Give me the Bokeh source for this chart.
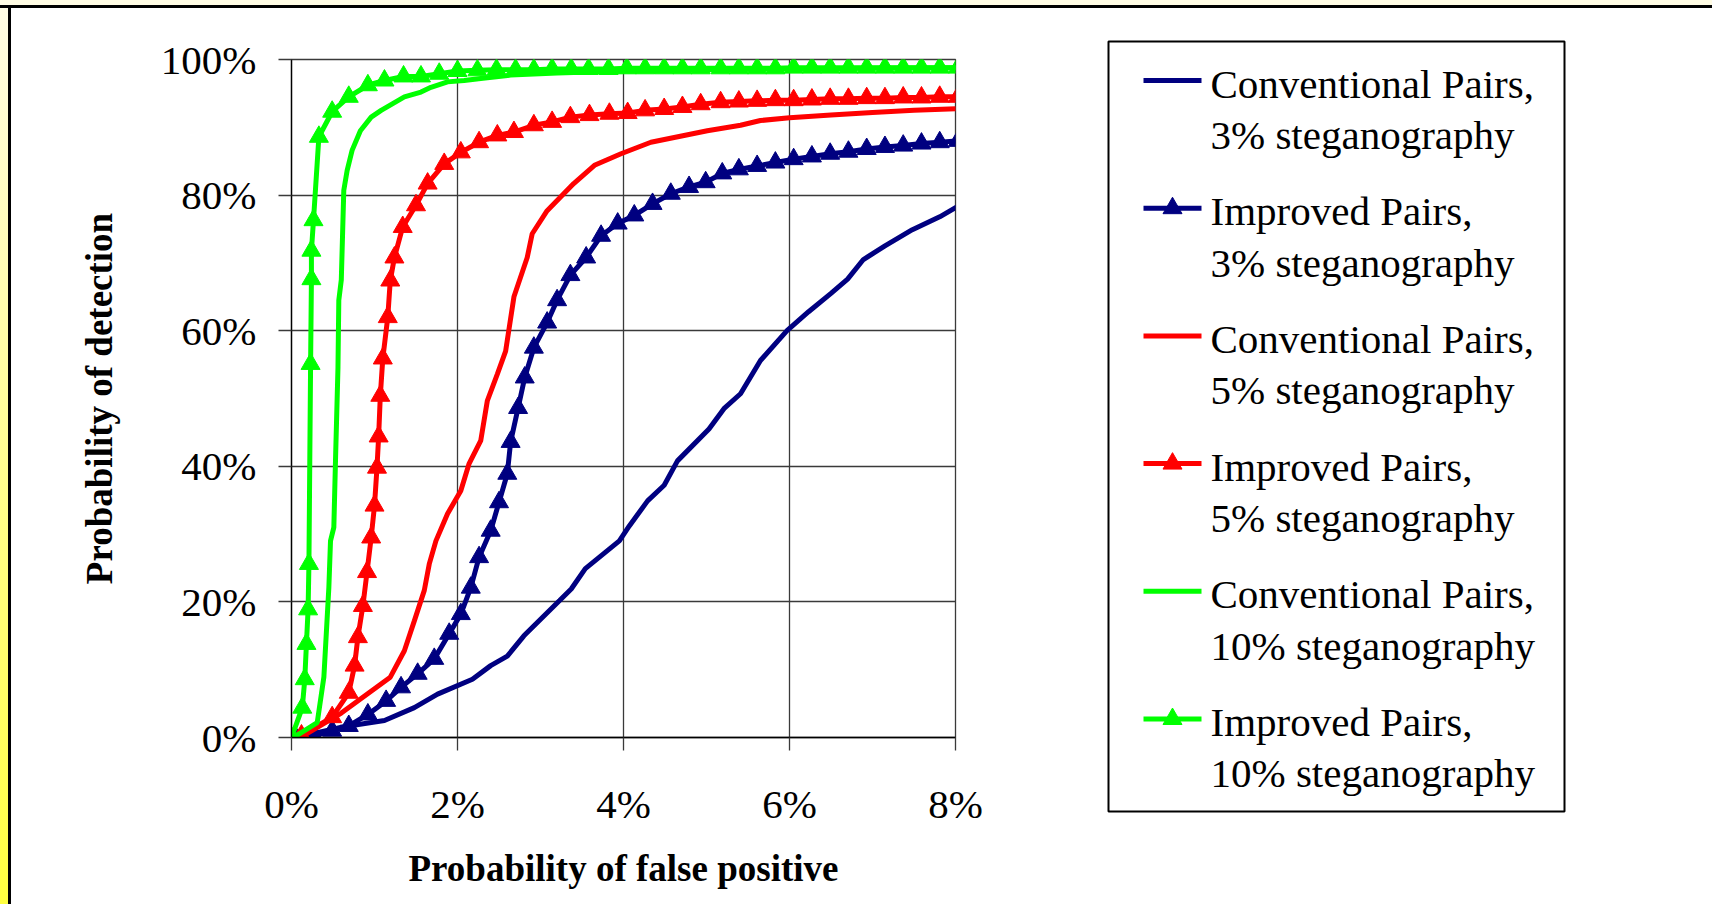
import numpy as np
from bokeh.plotting import figure
from bokeh.models import Range1d, FixedTicker, NumeralTickFormatter, Div
from bokeh.layouts import column, row
from bokeh.core.properties import value
from bokeh.embed import file_html
from bokeh.resources import INLINE

# ---------------- data (percent values) ----------------
conv3_x = [0.15, 0.59, 1.12, 1.48, 1.76, 2.18, 2.40, 2.60, 2.80, 3.23, 3.37, 3.54, 3.95, 4.07, 4.29, 4.49,
           4.65, 5.03, 5.21, 5.41, 5.65, 5.97, 6.23, 6.50, 6.70, 6.89, 7.15, 7.48, 7.81, 8.11]
conv3_y = [0.25, 1.5, 2.5, 4.4, 6.4, 8.6, 10.6, 12.0, 15.0, 20.2, 21.9, 24.9, 29.0, 31.2, 34.9, 37.2,
           40.8, 45.5, 48.5, 50.7, 55.6, 60.0, 62.8, 65.5, 67.6, 70.5, 72.5, 74.9, 76.8, 78.9]

impr3_x = [0.05, 0.27, 0.49, 0.69, 0.92, 1.14, 1.32, 1.52, 1.72, 1.90, 2.04, 2.16, 2.26, 2.40, 2.50, 2.60,
           2.64, 2.73, 2.81, 2.92, 3.08, 3.20, 3.36, 3.55, 3.73, 3.93, 4.13, 4.35, 4.57, 4.79, 4.99, 5.19,
           5.39, 5.61, 5.83, 6.05, 6.27, 6.49, 6.71, 6.93, 7.15, 7.37, 7.59, 7.81, 8.03]
impr3_y = [0.0, 0.25, 1.0, 1.7, 3.4, 5.4, 7.4, 9.4, 11.6, 15.3, 18.2, 22.1, 26.6, 30.5, 34.7, 38.9,
           43.6, 48.6, 53.1, 57.5, 61.2, 64.5, 68.2, 70.8, 74.0, 75.8, 77.0, 78.7, 80.2, 81.2, 81.9, 83.2,
           83.8, 84.3, 84.8, 85.3, 85.7, 86.1, 86.4, 86.8, 87.1, 87.3, 87.6, 87.8, 88.0]

conv5_x = [0.15, 0.60, 1.19, 1.36, 1.48, 1.60, 1.66, 1.74, 1.88, 2.04, 2.14, 2.28, 2.36, 2.48, 2.58, 2.68,
           2.84, 2.90, 3.08, 3.40, 3.65, 3.97, 4.33, 5.01, 5.41, 5.65, 6.00, 6.50, 7.00, 7.50, 8.10]
conv5_y = [0.3, 3.6, 8.9, 12.8, 17.2, 21.7, 25.6, 29.0, 33.0, 36.4, 40.4, 43.8, 49.7, 53.6, 57.0, 65.0,
           70.8, 74.3, 77.7, 81.7, 84.4, 86.1, 87.8, 89.5, 90.3, 91.0, 91.4, 91.8, 92.2, 92.5, 92.8]

impr5_x = [0.12, 0.49, 0.69, 0.76, 0.80, 0.86, 0.91, 0.96, 1.00, 1.03, 1.05, 1.07, 1.10, 1.16, 1.19, 1.24,
           1.34, 1.50, 1.64, 1.84, 2.04, 2.26, 2.48, 2.68, 2.92, 3.14, 3.36, 3.59, 3.83, 4.05, 4.26, 4.49,
           4.71, 4.93, 5.17, 5.39, 5.61, 5.83, 6.05, 6.27, 6.49, 6.71, 6.93, 7.15, 7.37, 7.59, 7.81, 8.03]
impr5_y = [0.3, 3.0, 6.6, 10.6, 14.8, 19.4, 24.4, 29.5, 34.2, 39.8, 44.4, 50.4, 55.9, 62.0, 67.4, 70.8,
           75.3, 78.5, 81.7, 84.6, 86.3, 87.8, 88.8, 89.3, 90.3, 90.8, 91.5, 91.8, 92.0, 92.1, 92.5, 92.7,
           93.0, 93.4, 93.7, 93.8, 93.9, 94.0, 94.0, 94.1, 94.2, 94.2, 94.3, 94.3, 94.4, 94.4, 94.5, 94.5]

conv10_x = [0.00, 0.09, 0.31, 0.39, 0.45, 0.47, 0.51, 0.53, 0.56, 0.57, 0.60, 0.63, 0.67, 0.73, 0.83, 0.96,
            1.08, 1.22, 1.36, 1.56, 1.68, 1.88, 2.08, 2.28, 2.64, 3.20, 4.00, 5.00, 6.00, 7.00, 8.10]
conv10_y = [0.0, 0.5, 2.2, 8.9, 22.1, 29.0, 31.0, 40.8, 54.6, 64.5, 67.5, 80.7, 83.6, 86.6, 89.5, 91.5,
            92.5, 93.5, 94.5, 95.2, 95.9, 96.7, 96.9, 97.2, 97.7, 98.0, 98.3, 98.5, 98.6, 98.7, 98.8]

impr10_x = [0.00, 0.13, 0.16, 0.18, 0.20, 0.21, 0.23, 0.24, 0.24, 0.265, 0.33, 0.49, 0.69, 0.92, 1.12,
            1.35, 1.56, 1.78, 2.00, 2.24, 2.47, 2.70, 2.92, 3.14, 3.37, 3.58, 3.82, 4.04, 4.26, 4.49, 4.71,
            4.93, 5.17, 5.39, 5.61, 5.83, 6.05, 6.27, 6.49, 6.71, 6.93, 7.15, 7.37, 7.59, 7.81, 8.03]
impr10_y = [0.0, 4.4, 8.6, 13.8, 18.9, 25.6, 55.1, 67.6, 71.8, 76.3, 88.6, 92.3, 94.5, 96.2, 96.9,
            97.5, 97.5, 97.9, 98.3, 98.4, 98.5, 98.5, 98.5, 98.6, 98.6, 98.6, 98.6, 98.7, 98.7, 98.7, 98.7,
            98.7, 98.7, 98.7, 98.7, 98.7, 98.8, 98.8, 98.8, 98.8, 98.8, 98.8, 98.8, 98.8, 98.8, 98.8]

x_ticks = [0, 2, 4, 6, 8]
y_ticks = [0, 20, 40, 60, 80, 100]

series = [
    ("Conventional Pairs,", "3% steganography", conv3_x, conv3_y, "#000080", False),
    ("Improved Pairs,", "3% steganography", impr3_x, impr3_y, "#000080", True),
    ("Conventional Pairs,", "5% steganography", conv5_x, conv5_y, "#FF0000", False),
    ("Improved Pairs,", "5% steganography", impr5_x, impr5_y, "#FF0000", True),
    ("Conventional Pairs,", "10% steganography", conv10_x, conv10_y, "#00FF00", False),
    ("Improved Pairs,", "10% steganography", impr10_x, impr10_y, "#00FF00", True),
]

SERIF = "Liberation Serif"
GRID = "#3a3a3a"

# ---------------- main chart ----------------
p = figure(width=989, height=896, x_range=Range1d(0, 0.08), y_range=Range1d(0, 1.0),
           output_backend="svg", toolbar_location=None,
           min_border_left=280, min_border_right=45, min_border_top=51, min_border_bottom=167)
p.frame_align = False
p.outline_line_color = GRID
p.outline_line_width = 1.3
p.background_fill_color = "white"
p.border_fill_color = "white"

for ax in (p.xaxis[0], p.yaxis[0]):
    ax.major_tick_out = 13
    ax.major_tick_in = 0
    ax.minor_tick_line_color = None
    ax.axis_line_color = "#000000"
    ax.axis_line_width = 1.3
    ax.major_tick_line_color = GRID
    ax.major_tick_line_width = 1.3
    ax.formatter = NumeralTickFormatter(format="0%")
    ax.major_label_text_font = SERIF
    ax.major_label_text_font_size = "41px"
    ax.major_label_text_color = "black"
    ax.axis_label_text_font = SERIF
    ax.axis_label_text_font_size = "37px"
    ax.axis_label_text_font_style = "bold"
    ax.axis_label_text_color = "black"

p.xaxis.ticker = FixedTicker(ticks=[t / 100 for t in x_ticks])
p.yaxis.ticker = FixedTicker(ticks=[t / 100 for t in y_ticks])
p.xaxis.axis_label = "Probability of false positive"
p.yaxis.axis_label = "Probability of detection"
p.xaxis.major_label_standoff = 30
p.yaxis.major_label_standoff = 22
p.xaxis.axis_label_standoff = 18
p.yaxis.axis_label_standoff = 38

p.xgrid.ticker = FixedTicker(ticks=[t / 100 for t in x_ticks])
p.ygrid.ticker = FixedTicker(ticks=[t / 100 for t in y_ticks])
for g in (p.xgrid[0], p.ygrid[0]):
    g.grid_line_color = GRID
    g.grid_line_width = 1.3

for l1, l2, xs, ys, col, mk in series:
    xa = np.array(xs) / 100.0
    ya = np.array(ys) / 100.0
    p.line(xa, ya, line_color=col, line_width=5)
    if mk:
        p.scatter(xa, ya, marker="triangle", size=19, fill_color=col, line_color=col)

# ---------------- legend panel ----------------
lg = figure(width=712, height=896, x_range=Range1d(1000, 1712), y_range=Range1d(904, 8),
            output_backend="svg", toolbar_location=None, x_axis_type=None, y_axis_type=None,
            min_border=0, min_border_left=0, min_border_right=0, min_border_top=0, min_border_bottom=0)
lg.frame_align = False
lg.outline_line_color = None
lg.xgrid.visible = False
lg.ygrid.visible = False
lg.background_fill_color = "white"
lg.border_fill_color = "white"

lg.quad(left=[1108], right=[1564], top=[41], bottom=[811], fill_color=None,
        line_color="black", line_width=2)

y0, step, inner = 83.0, 127.7, 51.3
for i, (l1, l2, xs, ys, col, mk) in enumerate(series):
    yl = y0 + i * step
    lg.line([1143, 1201], [yl - 3, yl - 3], line_color=col, line_width=5)
    if mk:
        lg.scatter([1172], [yl - 3], marker="triangle", size=19, fill_color=col, line_color=col)
    lg.text([1210, 1210], [yl, yl + inner], text=[l1, l2], text_font=value(SERIF),
            text_font_size=value("41px"), text_baseline="middle", text_align="left",
            text_color="black")

# ---------------- page frame decorations ----------------
top = Div(text="", width=1712, height=8,
          styles={"background": "linear-gradient(to bottom, #FFFCE4 0px, #FFFCE4 5px, #000000 5px, #000000 8px)",
                  "margin": "0", "padding": "0"})
left = Div(text="", width=11, height=896,
           styles={"background": "linear-gradient(to right, rgba(0,0,0,0) 0px, rgba(0,0,0,0) 8px, #000000 8px, #000000 11px), linear-gradient(to bottom, #FFFCE4, #FFFF40)",
                   "margin": "0", "padding": "0"})

layout = column(top, row(left, p, lg, spacing=0), spacing=0)

open("out.html", "w").write(file_html(layout, INLINE))
